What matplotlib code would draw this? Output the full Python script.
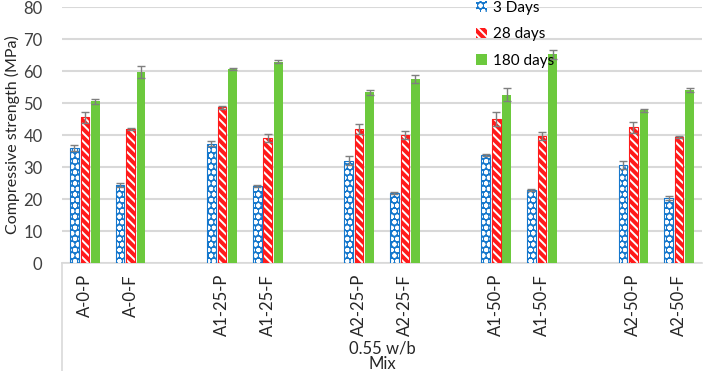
import matplotlib.pyplot as plt
import numpy as np
from matplotlib.lines import Line2D
from matplotlib.patches import Patch

plt.rcParams['font.family'] = ['Lato', 'DejaVu Sans']
plt.rcParams['hatch.linewidth'] = 1.4

# data
mixes = ["A-0-P", "A-0-F", "", "A1-25-P", "A1-25-F", "", "A2-25-P", "A2-25-F",
         "", "A1-50-P", "A1-50-F", "", "A2-50-P", "A2-50-F"]
days3 = [35.9, 24.3, np.nan, 37.3, 24.1, np.nan, 31.9, 21.8, np.nan, 33.7, 22.7, np.nan, 30.6, 20.4]
days28 = [45.5, 41.8, np.nan, 48.6, 39.1, np.nan, 41.9, 39.9, np.nan, 44.9, 39.7, np.nan, 42.4, 39.5]
days180 = [50.6, 59.7, np.nan, 60.6, 62.9, np.nan, 53.3, 57.6, np.nan, 52.6, 65.2, np.nan, 47.7, 54.0]
err3 = [1.0, 0.6, 0, 0.8, 0.3, 0, 1.4, 0.3, 0, 0.3, 0.3, 0, 1.2, 0.6]
err28 = [1.8, 0.3, 0, 0.4, 1.2, 0, 1.5, 1.2, 0, 2.2, 1.3, 0, 1.8, 0.3]
err180 = [0.8, 2.0, 0, 0.3, 0.5, 0, 0.8, 1.3, 0, 2.0, 1.4, 0, 0.5, 0.6]

fig = plt.figure(figsize=(7.06, 3.71), dpi=100)
ax = fig.add_axes([62/706, 108/371, 640/706, 256/371])

x = np.arange(len(mixes))
w = 0.19
off = 0.23

series = [
    (days3, err3, "3 Days", "#1577cc", "ooo"),
    (days28, err28, "28 days", "#ff1a1a", "\\\\\\\\"),
    (days180, err180, "180 days", "#6cc93d", None),
]
handles = []
for i, (vals, errs, lab, col, hat) in enumerate(series):
    xs = x + (i - 1) * off
    if hat:
        ax.bar(xs, vals, w, color=col, edgecolor="white", linewidth=0, hatch=hat, zorder=3)
        ax.bar(xs, vals, w, facecolor="none", edgecolor=col, linewidth=0.8, zorder=4)
    else:
        ax.bar(xs, vals, w, color=col, linewidth=0, zorder=3)
    ax.errorbar(xs, vals, yerr=errs, fmt="none", ecolor="#7f7f7f", elinewidth=1,
                capsize=3, capthick=1, zorder=5)
    handles.append(Patch(facecolor=col, edgecolor="white" if hat else col, hatch=hat,
                         linewidth=0, label=lab))

ax.set_xlim(-0.5, len(mixes) - 0.5)
ax.set_ylim(0, 80)
ax.set_yticks(range(0, 81, 10))
ax.yaxis.grid(True, color="#d9d9d9", linewidth=1.5, zorder=0)
ax.set_axisbelow(True)
for s in ["top", "right", "left"]:
    ax.spines[s].set_visible(False)
ax.spines["bottom"].set_color("#d9d9d9")
ax.spines["bottom"].set_linewidth(1.2)
ax.tick_params(axis="y", length=0, pad=14, labelsize=12, labelcolor="#404040")
ax.tick_params(axis="x", length=0, pad=8, labelsize=12, labelcolor="#262626")
ax.set_xticks(x)
ax.set_xticklabels(mixes, rotation=90, va="top")
ax.set_ylabel("Compressive strength (MPa)", fontsize=11.5, color="#262626")
ax.yaxis.set_label_coords(-42/640, 0.5)

# multi level category line
fig.add_artist(Line2D([62/706, 62/706], [0, 108/371], color="#d9d9d9", linewidth=1.2))
fig.text(382/706, 1 - 348/371, "0.55 w/b", ha="center", va="center", fontsize=12, color="#262626")
fig.text(382/706, 1 - 364/371, "Mix", ha="center", va="center", fontsize=12, color="#262626")

ax.legend(handles=handles, loc="upper left", bbox_to_anchor=(470/706, 1.0 + 5/371),
          bbox_transform=fig.transFigure, frameon=False, fontsize=11,
          handlelength=0.7, handleheight=0.7, handletextpad=0.4,
          labelspacing=0.8, borderaxespad=0)

fig.savefig("out.png", dpi=100)
